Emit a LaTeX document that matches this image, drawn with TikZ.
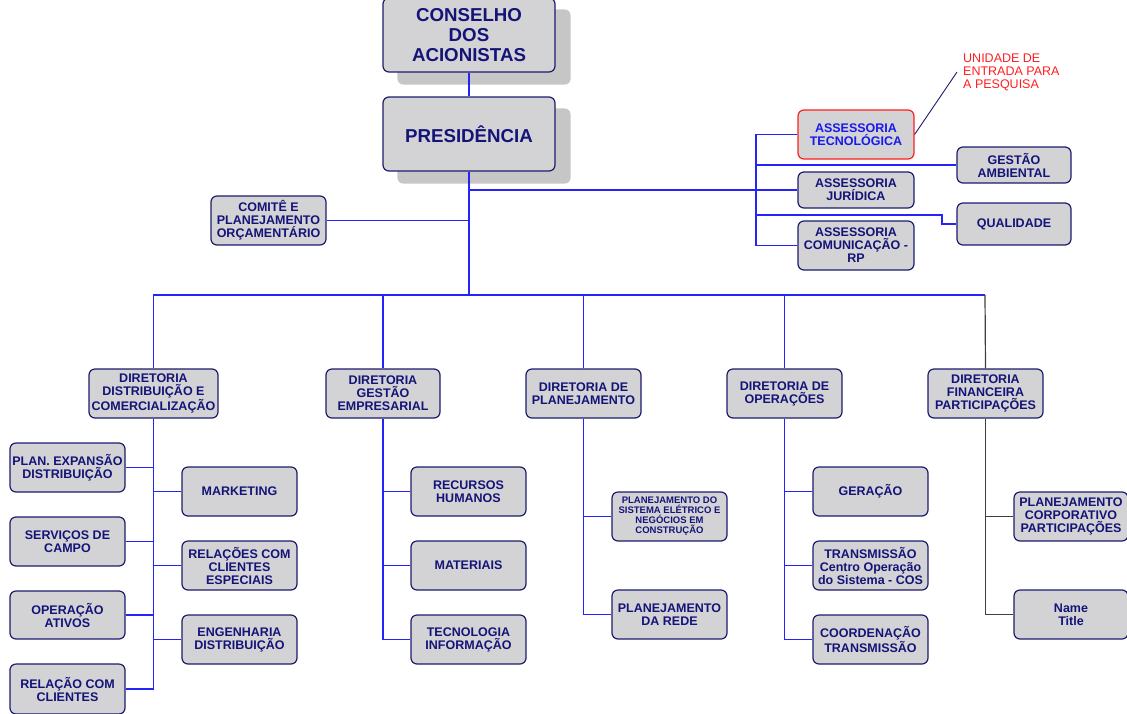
\documentclass[tikz,border=0pt]{standalone}
\usepackage{fontspec}
\setmainfont{Liberation Sans}
\usetikzlibrary{backgrounds}
\definecolor{boxfill}{RGB}{211,211,213}
\definecolor{shadowc}{RGB}{198,198,198}
\definecolor{boxline}{RGB}{28,28,110}
\definecolor{navytext}{RGB}{20,20,120}
\definecolor{lineblue}{RGB}{35,35,250}
\definecolor{techblue}{RGB}{25,25,235}
\definecolor{dfline}{RGB}{64,64,64}
\definecolor{labelred}{RGB}{255,30,30}
\newcommand\fsz[2]{\fontsize{#1}{#2}\selectfont}
\newcommand\bx[7][]{\node[box,minimum width={(#5-#3)*1pt},minimum height={(#6-#4)*1pt},#1] (#2) at ({(#3+#5)/2},{(#4+#6)/2}) {#7};}
\tikzset{
  box/.style={draw=boxline, fill=boxfill, rounded corners=6pt, line width=1.2pt, inner sep=0pt,
    align=center, text=navytext, font=\bfseries\fsz{12.5}{13}},
  bigbox/.style={font=\bfseries\fsz{18.7}{20}},
  smallbox/.style={font=\bfseries\fsz{9.5}{10}},
  techbox/.style={draw=labelred, text=techblue},
  conn/.style={draw=lineblue, line width=1.2pt},
  dfconn/.style={draw=dfline, line width=1.2pt},
  leader/.style={draw=boxline, line width=0.9pt},
  shadowbox/.style={fill=shadowc, rounded corners=6pt},
}
\begin{document}
\begin{tikzpicture}[x=1pt,y=-1pt]
\useasboundingbox (0,0) rectangle (1127,713);

% top
\bx[bigbox]{cons}{383}{-2}{555}{72}{CONSELHO\\DOS\\ACIONISTAS}
\bx[bigbox]{pres}{383}{97}{555}{171}{PRESIDÊNCIA}
\begin{scope}[on background layer]
  \fill[shadowbox] ([shift={(15,12)}]cons.north west) rectangle ([shift={(15,12)}]cons.south east);
  \fill[shadowbox] ([shift={(15,12)}]pres.north west) rectangle ([shift={(15,12)}]pres.south east);
\end{scope}

\bx{comi}{211}{196}{326}{245}{COMITÊ E\\PLANEJAMENTO\\ORÇAMENTÁRIO}

% staff
\bx[techbox]{tec}{798}{110}{914}{159}{ASSESSORIA\\TECNOLÓGICA}
\bx{gest}{957}{147}{1071}{183}{GESTÃO\\AMBIENTAL}
\bx{jur}{798}{172}{914}{208}{ASSESSORIA\\JURÍDICA}
\bx{qual}{957}{203}{1071}{245}{QUALIDADE}
\bx{comu}{798}{221}{914}{270}{ASSESSORIA\\COMUNICAÇÃO -\\RP}
\node[anchor=west, inner sep=0pt, align=left, text=labelred, font=\fsz{12.5}{13}] (lbl) at (963,72) {UNIDADE DE\\ENTRADA PARA\\A PESQUISA};
\coordinate (sb) at (756,134);
\coordinate (qj) at (756,215);

% directorates
\bx{ddc}{89}{369}{218}{418}{DIRETORIA\\DISTRIBUIÇÃO E\\COMERCIALIZAÇÃO}
\bx{dge}{326}{369}{440}{418}{DIRETORIA\\GESTÃO\\EMPRESARIAL}
\bx{dp}{526}{369}{641}{418}{DIRETORIA DE\\PLANEJAMENTO}
\bx{do}{727}{369}{842}{418}{DIRETORIA DE\\OPERAÇÕES}
\bx{df}{928}{369}{1043}{418}{DIRETORIA\\FINANCEIRA\\PARTICIPAÇÕES}
\coordinate (busL) at (153,295);
\coordinate (busR) at (985,295);

% DDC children
\bx{pe}{10}{443}{125}{492}{\makebox[0pt]{PLAN. EXPANSÃO}\\DISTRIBUIÇÃO}
\bx{sc}{10}{517}{125}{566}{SERVIÇOS DE\\CAMPO}
\bx{oa}{10}{591}{125}{639}{OPERAÇÃO\\ATIVOS}
\bx{rc}{10}{664}{125}{714}{RELAÇÃO COM\\CLIENTES}
\bx{mk}{182}{467}{297}{516}{MARKETING}
\bx{rce}{182}{541}{297}{590}{RELAÇÕES COM\\CLIENTES\\ESPECIAIS}
\bx{ed}{182}{615}{297}{664}{ENGENHARIA\\DISTRIBUIÇÃO}

% DGE children
\bx{rh}{411}{467}{526}{516}{RECURSOS\\HUMANOS}
\bx{mat}{411}{541}{526}{590}{MATERIAIS}
\bx{ti}{411}{615}{526}{664}{TECNOLOGIA\\INFORMAÇÃO}

% DP children
\bx[smallbox]{pse}{612}{492}{727}{541}{PLANEJAMENTO DO\\SISTEMA ELÉTRICO E\\NEGÓCIOS EM\\CONSTRUÇÃO}
\bx{pr}{612}{590}{727}{639}{PLANEJAMENTO\\DA REDE}

% DO children
\bx{ger}{813}{467}{928}{516}{GERAÇÃO}
\bx{tr}{813}{541}{928}{590}{TRANSMISSÃO\\Centro Operação\\do Sistema - COS}
\bx{ct}{813}{615}{928}{664}{COORDENAÇÃO\\TRANSMISSÃO}

% DF children
\bx{pc}{1014}{492}{1128}{541}{PLANEJAMENTO\\CORPORATIVO\\PARTICIPAÇÕES}
\bx{nt}{1014}{590}{1128}{639}{Name\\Title}

% connectors: top
\draw[conn] (cons.south) -- (pres.north);
\draw[conn] (pres.south) -- (pres.south |- busL);
\draw[conn] (comi.east) -- (comi.east -| pres.south);
\draw[conn] (jur.west) -- (jur.west -| pres.south);
\draw[conn] (tec.west) -| (comu.west -| sb) -- (comu.west);
\draw[conn] (gest.west) -- (gest.west -| sb);
\draw[conn] (qj) -- ++(186,0) |- (qual.west);
\draw[leader] (tec.east) -- ([xshift=-6pt]lbl.west);

% main bus
\draw[conn] (busL) -- (busR);
\draw[conn] (ddc.north) -- (ddc.north |- busL);
\draw[conn] (dge.north) -- (dge.north |- busL);
\draw[conn] (dp.north) -- (dp.north |- busL);
\draw[conn] (do.north) -- (do.north |- busL);
\draw[dfconn] (df.north) -- (busR);

% DDC
\draw[conn] (ddc.south) -- (ddc.south |- rc.east);
\foreach \n in {pe,sc,oa,rc} \draw[conn] (\n.east) -- (\n.east -| ddc.south);
\foreach \n in {mk,rce,ed} \draw[conn] (\n.west) -- (\n.west -| ddc.south);

% DGE
\draw[conn] (dge.south) |- (ti.west);
\foreach \n in {rh,mat} \draw[conn] (\n.west) -- (\n.west -| dge.south);

% DP
\draw[conn] (dp.south) |- (pr.west);
\draw[conn] (pse.west) -- (pse.west -| dp.south);

% DO
\draw[conn] (do.south) |- (ct.west);
\foreach \n in {ger,tr} \draw[conn] (\n.west) -- (\n.west -| do.south);

% DF
\draw[dfconn] (df.south) |- (nt.west);
\draw[dfconn] (pc.west) -- (pc.west -| df.south);
\end{tikzpicture}
\end{document}
